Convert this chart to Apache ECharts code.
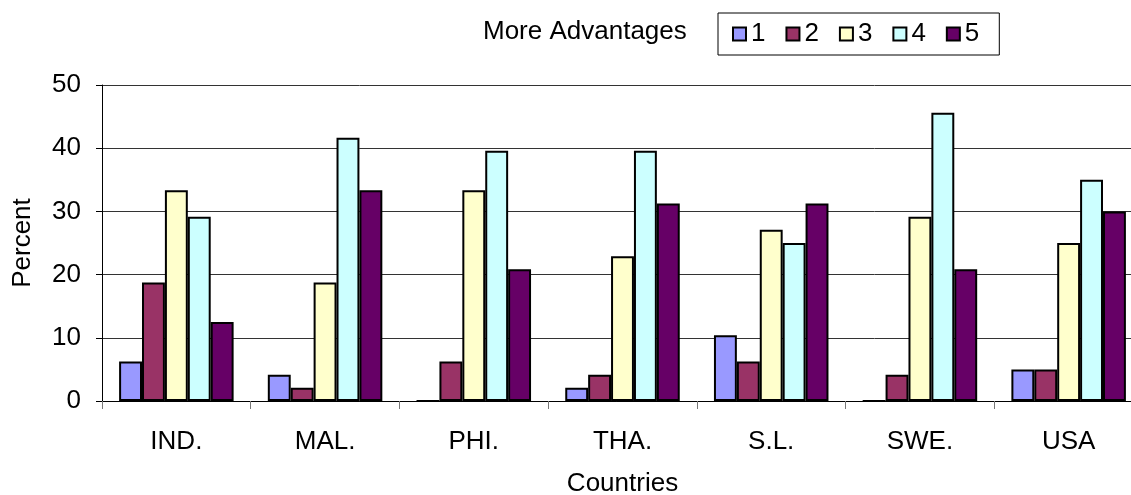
<!DOCTYPE html>
<html>
<head>
<meta charset="utf-8">
<script src="https://cdn.jsdelivr.net/npm/echarts@6/dist/echarts.min.js"></script>
<style>
html, body { margin: 0; padding: 0; background: #fff; }
#myChart { width: 1131px; height: 495px; }
</style>
</head>
<body>
<div id="myChart"></div>
<script>
// categories and values
var countries = ['IND.', 'MAL.', 'PHI.', 'THA.', 'S.L.', 'SWE.', 'USA']
var seriesNames = ['1', '2', '3', '4', '5']
var s1 = [6.25, 4.17, 0, 2.08, 10.42, 0, 5]
var s2 = [18.75, 2.08, 6.25, 4.17, 6.25, 4.17, 5]
var s3 = [33.33, 18.75, 33.33, 22.92, 27.08, 29.17, 25]
var s4 = [29.17, 41.67, 39.58, 39.58, 25, 45.6, 35]
var s5 = [12.5, 33.33, 20.83, 31.25, 31.25, 20.83, 30]
var yTicks = [0, 10, 20, 30, 40, 50]

var colors = ['#9999FF', '#993366', '#FFFFCC', '#CCFFFF', '#660066']
var values = [s1, s2, s3, s4, s5]
var font = 'Liberation Sans, Arial, sans-serif'

var myChart = echarts.init(document.getElementById('myChart'))

myChart.setOption({
  animation: false,
  title: {
    text: 'More Advantages',
    left: 478,
    top: 14,
    textStyle: { fontFamily: font, fontSize: 26, fontWeight: 'normal', color: '#000' }
  },
  legend: {
    data: seriesNames,
    left: 718,
    top: 13,
    padding: [8, 20, 8, 14],
    borderColor: '#000',
    borderWidth: 1,
    itemWidth: 13,
    itemHeight: 13,
    itemGap: 20,
    icon: 'rect',
    textStyle: { fontFamily: font, fontSize: 26, color: '#000', padding: [0, 0, 0, 0] }
  },
  grid: {
    left: 102,
    top: 85,
    width: 1041,
    height: 316,
    containLabel: false,
    outerBoundsMode: 'none'
  },
  xAxis: {
    type: 'category',
    data: countries,
    name: 'Countries',
    nameLocation: 'middle',
    nameGap: 70,
    nameTextStyle: { fontFamily: font, fontSize: 26, color: '#000' },
    axisLine: { lineStyle: { color: '#000', width: 1 } },
    axisTick: { show: true, alignWithLabel: false, length: 8, lineStyle: { color: '#777' } },
    axisLabel: { fontFamily: font, fontSize: 26, color: '#000', margin: 28 }
  },
  yAxis: {
    type: 'value',
    min: yTicks[0],
    max: yTicks[yTicks.length - 1],
    interval: 10,
    name: 'Percent',
    nameLocation: 'middle',
    nameGap: 66,
    nameTextStyle: { fontFamily: font, fontSize: 26, color: '#000' },
    axisLine: { show: true, lineStyle: { color: '#000', width: 1 } },
    axisTick: { show: true, length: 6, lineStyle: { color: '#000' } },
    axisLabel: { fontFamily: font, fontSize: 26, color: '#000', margin: 21 },
    splitLine: { show: true, lineStyle: { color: '#333', width: 1 } }
  },
  series: seriesNames.map(function (name, i) {
    return {
      name: name,
      type: 'bar',
      data: values[i],
      barGap: '0%',
      barCategoryGap: '23%',
      itemStyle: {
        color: colors[i],
        borderColor: '#000',
        borderWidth: 2
      }
    }
  })
})
</script>
</body>
</html>
